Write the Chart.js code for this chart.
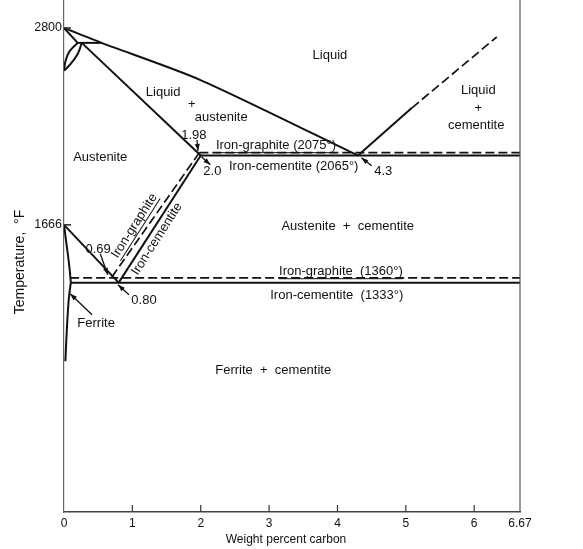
<!DOCTYPE html>
<html>
<head>
<meta charset="utf-8">
<script src="https://cdn.jsdelivr.net/npm/chart.js@4.4.1/dist/chart.umd.min.js"></script>
<style>
  html, body { margin: 0; padding: 0; background: #fff; }
  #wrap { width: 583px; height: 549px; }
</style>
</head>
<body>
<div id="wrap"><canvas id="c" width="583" height="549"></canvas></div>
<script>
// ---- tick labels ----
const xTickValues = [0, 1, 2, 3, 4, 5, 6, 6.67];
const xTickLabels = ['0', '1', '2', '3', '4', '5', '6', '6.67'];
const yTickValues = [1666, 2800];
const yTickLabels = ['1666', '2800'];

// ---- phase boundaries: [weight % carbon, temperature °F] ----
const liquidusAustenite = [[0, 2800], [0.55, 2714], [1.99, 2501], [4.3, 2065]];
const deltaSolidus = [[0, 2800], [0.2, 2714]];
const peritectic = [[0.2, 2714], [0.55, 2714]];
const austeniteSolidus = [[0.26, 2714], [2.0, 2065]];
const deltaOuter = [[0.26, 2714], [0.2, 2650], [0.09, 2590], [0, 2554]];
const deltaInner = [[0.2, 2714], [0.08, 2665], [0.02, 2605], [0, 2554]];
const eutecticCementite = [[2.0, 2065], [6.67, 2065]];
const eutecticGraphite = [[1.98, 2082], [6.67, 2082]];
const liquidusCementite = [[4.3, 2065], [5.09, 2340]];
const liquidusCementiteExt = [[5.09, 2340], [6.33, 2748]];
const acmCementite = [[2.0, 2065], [0.8, 1333]];
const acmGraphite = [[1.98, 2082], [0.69, 1360]];
const a3Line = [[0, 1666], [0.8, 1333]];
const eutectoidCementite = [[0.1, 1333], [6.67, 1333]];
const eutectoidGraphite = [[0.09, 1360], [6.67, 1360]];
const ferriteUpper = [[0, 1666], [0.04, 1545], [0.08, 1420], [0.1, 1333]];
const ferriteSolvus = [[0.1, 1333], [0.07, 1240], [0.04, 1050], [0.02, 880]];

const toXY = arr => arr.map(p => ({ x: p[0], y: p[1] }));

function solid(arr, tension) {
  return { data: toXY(arr), showLine: true, pointRadius: 0, borderColor: '#111',
           borderWidth: 2, fill: false, tension: tension || 0 };
}
function dashed(arr) {
  return { data: toXY(arr), showLine: true, pointRadius: 0, borderColor: '#111',
           borderWidth: 1.7, fill: false, borderDash: [9, 4] };
}

// ---- annotations (positions in data units) ----
const labels = [
  { t: 'Liquid', x: 3.89, y: 2640 },
  { t: 'Liquid', x: 1.45, y: 2428 },
  { t: '+', x: 1.87, y: 2358 },
  { t: 'austenite', x: 2.30, y: 2283 },
  { t: 'Austenite', x: 0.53, y: 2052 },
  { t: 'Liquid', x: 6.06, y: 2438 },
  { t: '+', x: 6.06, y: 2335 },
  { t: 'cementite', x: 6.03, y: 2237 },
  { t: 'Austenite  +  cementite', x: 4.15, y: 1655 },
  { t: 'Ferrite  +  cementite', x: 3.06, y: 826 },
  { t: 'Ferrite', x: 0.47, y: 1097 },
  { t: 'Iron-graphite (2075°)', x: 3.10, y: 2122, u: true },
  { t: 'Iron-cementite (2065°)', x: 3.36, y: 2001 },
  { t: 'Iron-graphite  (1360°)', x: 4.05, y: 1396, u: true },
  { t: 'Iron-cementite  (1333°)', x: 3.99, y: 1258 },
  { t: '1.98', x: 1.90, y: 2180 },
  { t: '2.0', x: 2.17, y: 1973 },
  { t: '4.3', x: 4.67, y: 1976 },
  { t: '0.69', x: 0.50, y: 1527 },
  { t: '0.80', x: 1.17, y: 1228 },
  { t: 'Iron-graphite', x: 1.03, y: 1660, rot: -57.4, u: true },
  { t: 'Iron-cementite', x: 1.36, y: 1585, rot: -57.4 }
];
const arrows = [
  { from: [1.945, 2155], to: [1.96, 2092] },
  { from: [2.01, 2058], to: [2.14, 2012] },
  { from: [4.50, 2006], to: [4.35, 2052] },
  { from: [0.53, 1499], to: [0.64, 1378] },
  { from: [0.95, 1263], to: [0.79, 1321] },
  { from: [0.41, 1148], to: [0.09, 1269] }
];

const FONT = '"Liberation Sans", Arial, sans-serif';

const decor = {
  id: 'decor',
  afterDatasetsDraw(chart) {
    const ctx = chart.ctx, xs = chart.scales.x, ys = chart.scales.y, a = chart.chartArea;
    ctx.save();
    // right frame line
    ctx.strokeStyle = '#555'; ctx.lineWidth = 1.2;
    const xr = xs.getPixelForValue(6.67);
    ctx.beginPath(); ctx.moveTo(xr, a.top); ctx.lineTo(xr, a.bottom); ctx.stroke();
    // inward tick marks
    ctx.strokeStyle = '#333'; ctx.lineWidth = 1.2;
    xTickValues.forEach(v => {
      if (v === 0 || v === 6.67) return;
      const px = xs.getPixelForValue(v);
      ctx.beginPath(); ctx.moveTo(px, a.bottom); ctx.lineTo(px, a.bottom - 7); ctx.stroke();
    });
    ctx.lineWidth = 1.6;
    yTickValues.forEach(v => {
      const py = ys.getPixelForValue(v);
      ctx.beginPath(); ctx.moveTo(a.left, py); ctx.lineTo(a.left + 7, py); ctx.stroke();
    });
    // arrows
    ctx.fillStyle = '#111'; ctx.strokeStyle = '#111'; ctx.lineWidth = 1.3;
    arrows.forEach(ar => {
      const x1 = xs.getPixelForValue(ar.from[0]), y1 = ys.getPixelForValue(ar.from[1]);
      const x2 = xs.getPixelForValue(ar.to[0]), y2 = ys.getPixelForValue(ar.to[1]);
      const ang = Math.atan2(y2 - y1, x2 - x1);
      ctx.beginPath(); ctx.moveTo(x1, y1); ctx.lineTo(x2, y2); ctx.stroke();
      ctx.beginPath();
      ctx.moveTo(x2, y2);
      ctx.lineTo(x2 - 7 * Math.cos(ang) + 2.5 * Math.sin(ang), y2 - 7 * Math.sin(ang) - 2.5 * Math.cos(ang));
      ctx.lineTo(x2 - 7 * Math.cos(ang) - 2.5 * Math.sin(ang), y2 - 7 * Math.sin(ang) + 2.5 * Math.cos(ang));
      ctx.closePath(); ctx.fill();
    });
    // labels
    ctx.font = '13px ' + FONT;
    ctx.textAlign = 'center'; ctx.textBaseline = 'middle';
    labels.forEach(l => {
      const px = xs.getPixelForValue(l.x), py = ys.getPixelForValue(l.y);
      ctx.save();
      ctx.translate(px, py);
      if (l.rot) ctx.rotate(l.rot * Math.PI / 180);
      ctx.fillText(l.t, 0, 0);
      if (l.u) {
        const w = ctx.measureText(l.t).width;
        ctx.lineWidth = 1; ctx.beginPath();
        ctx.moveTo(-w / 2, 7); ctx.lineTo(w / 2, 7); ctx.stroke();
      }
      ctx.restore();
    });
    // axis titles
    ctx.font = '12px ' + FONT;
    ctx.fillText('Weight percent carbon', (a.left + a.right) / 2 - 6, 540);
    ctx.save();
    ctx.font = '14px ' + FONT;
    ctx.translate(20, 262); ctx.rotate(-Math.PI / 2);
    ctx.fillText('Temperature,  °F', 0, 0);
    ctx.restore();
    ctx.restore();
  }
};

new Chart(document.getElementById('c'), {
  type: 'scatter',
  data: {
    datasets: [
      solid(liquidusAustenite, 0.25),
      solid(deltaSolidus),
      solid(peritectic),
      solid(austeniteSolidus),
      solid(deltaOuter, 0.4),
      solid(deltaInner, 0.4),
      solid(eutecticCementite),
      dashed(eutecticGraphite),
      solid(liquidusCementite),
      dashed(liquidusCementiteExt),
      solid(acmCementite),
      dashed(acmGraphite),
      solid(a3Line),
      solid(eutectoidCementite),
      dashed(eutectoidGraphite),
      solid(ferriteUpper, 0.4),
      solid(ferriteSolvus, 0.4)
    ]
  },
  options: {
    responsive: false,
    animation: false,
    events: [],
    layout: { padding: { left: 0, right: 63, top: 0, bottom: 0 } },
    plugins: { legend: { display: false }, tooltip: { enabled: false } },
    scales: {
      x: {
        type: 'linear', min: 0, max: 6.67,
        afterBuildTicks: s => { s.ticks = xTickValues.map(v => ({ value: v })); },
        afterFit: s => { s.height = 37; s.paddingLeft = 0; s.paddingRight = 0; },
        ticks: { autoSkip: false, maxRotation: 0, padding: 4, color: '#111',
                 font: { family: FONT, size: 12 },
                 callback: (v, i) => xTickLabels[i] },
        grid: { display: false, drawTicks: false },
        border: { display: true, color: '#444', width: 1.5 }
      },
      y: {
        type: 'linear', min: 12, max: 2961,
        afterBuildTicks: s => { s.ticks = yTickValues.map(v => ({ value: v })); },
        afterFit: s => { s.width = 64; s.paddingTop = 0; s.paddingBottom = 0; },
        ticks: { autoSkip: false, padding: 2, color: '#111',
                 font: { family: FONT, size: 12.5 },
                 callback: (v, i) => yTickLabels[i] },
        grid: { display: false, drawTicks: false },
        border: { display: true, color: '#666', width: 1.2 }
      }
    }
  },
  plugins: [decor]
});
</script>
</body>
</html>
